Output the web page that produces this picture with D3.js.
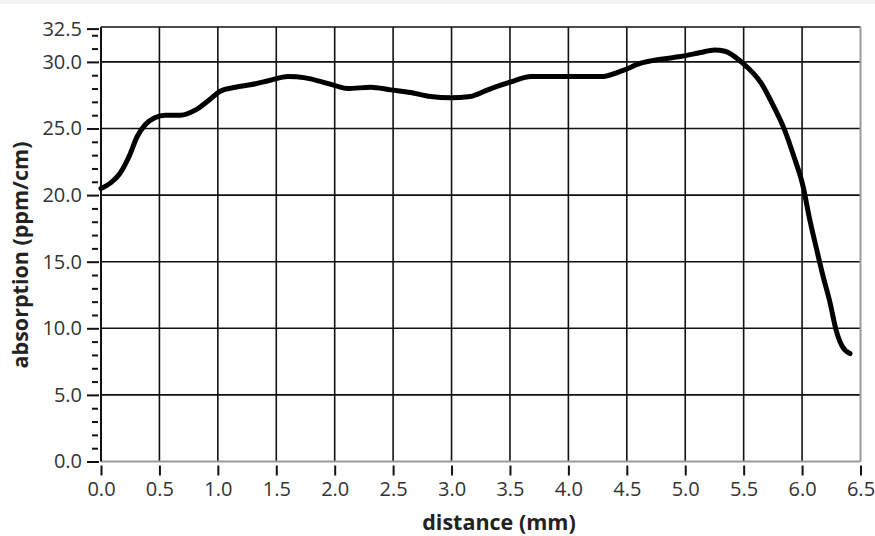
<!DOCTYPE html>
<html>
<head>
<meta charset="utf-8">
<script src="https://cdn.jsdelivr.net/npm/d3@7"></script>
<style>
  body { margin: 0; background: #fff; }
  svg { display: block; }
</style>
</head>
<body>
<script>
// distance (mm) and absorption (ppm/cm)
const distance = [0.00, 0.08, 0.16, 0.24, 0.31, 0.38, 0.46, 0.55, 0.68, 0.81,
                  0.92, 1.02, 1.15, 1.29, 1.44, 1.60, 1.75, 1.89, 2.01, 2.11,
                  2.31, 2.48, 2.65, 2.82, 2.99, 3.16, 3.31, 3.51, 3.68, 3.96,
                  4.28, 4.45, 4.62, 4.79, 4.96, 5.13, 5.25, 5.34, 5.48, 5.65,
                  5.76, 5.85, 5.93, 6.01, 6.06, 6.12, 6.18, 6.24, 6.29, 6.34, 6.41];
const absorption = [20.5, 20.9, 21.6, 22.9, 24.4, 25.3, 25.8, 26.0, 26.0, 26.4,
                    27.1, 27.8, 28.1, 28.3, 28.6, 28.9, 28.8, 28.5, 28.2, 28.0,
                    28.1, 27.9, 27.7, 27.4, 27.3, 27.4, 27.9, 28.5, 28.9, 28.9,
                    28.9, 29.3, 29.9, 30.2, 30.4, 30.7, 30.9, 30.8, 30.0, 28.4,
                    26.6, 24.9, 22.9, 20.6, 18.4, 16.1, 13.9, 11.9, 9.9, 8.7, 8.1];

const xTicks = [0, 0.5, 1, 1.5, 2, 2.5, 3, 3.5, 4, 4.5, 5, 5.5, 6, 6.5];
const yTicks = [0, 5, 10, 15, 20, 25, 30, 32.5];
const yGrid = [5, 10, 15, 20, 25, 30];
const yMinor = [1, 2, 3, 4, 6, 7, 8, 9, 11, 12, 13, 14, 16, 17, 18, 19,
                21, 22, 23, 24, 26, 27, 28, 29, 31, 32];

const data = distance.map((d, i) => ({d: d, v: absorption[i]}));

const outerWidth = 875, outerHeight = 536;
const margin = {top: 27, right: 14, bottom: 75, left: 101};
const width = 860.5 - margin.left;
const height = 461.5 - margin.top;

const svg = d3.select("body").append("svg")
    .attr("width", outerWidth)
    .attr("height", outerHeight);

// thin grey strip at the top of the window
svg.append("rect").attr("width", outerWidth).attr("height", 4).attr("fill", "#f2f2f2");

const g = svg.append("g")
    .attr("transform", "translate(" + margin.left + "," + margin.top + ")");

const xScale = d3.scaleLinear().domain([0, 6.5]).range([0, width]);
const yScale = d3.scaleLinear().domain([0, 32.62]).range([height, 0]);

// grid
g.selectAll(".vgrid")
    .data(xTicks.slice(1, -1))
    .join("line")
    .attr("class", "vgrid")
    .attr("x1", d => xScale(d)).attr("x2", d => xScale(d))
    .attr("y1", 0).attr("y2", height)
    .attr("stroke", "#111").attr("stroke-width", 1.6);

g.selectAll(".hgrid")
    .data(yGrid)
    .join("line")
    .attr("class", "hgrid")
    .attr("x1", 0).attr("x2", width)
    .attr("y1", d => yScale(d)).attr("y2", d => yScale(d))
    .attr("stroke", "#111").attr("stroke-width", 1.6);

// frame: top + left dark, bottom + right grey
g.append("line").attr("x1", 0).attr("x2", width).attr("y1", 0).attr("y2", 0)
    .attr("stroke", "#111").attr("stroke-width", 1.6);
g.append("line").attr("x1", width).attr("x2", width).attr("y1", 0).attr("y2", height)
    .attr("stroke", "#9a9a9a").attr("stroke-width", 2);
g.append("line").attr("x1", 0).attr("x2", width).attr("y1", height).attr("y2", height)
    .attr("stroke", "#9a9a9a").attr("stroke-width", 2);
g.append("line").attr("x1", 0).attr("x2", 0).attr("y1", 0).attr("y2", height)
    .attr("stroke", "#111").attr("stroke-width", 2);

// axes
const font = "'Open Sans', sans-serif";

const xAxis = d3.axisBottom(xScale).tickValues(xTicks).tickSize(10).tickPadding(6)
    .tickFormat(d3.format(".1f"));
const yAxis = d3.axisLeft(yScale).tickValues(yTicks).tickSize(12).tickPadding(5)
    .tickFormat(d3.format(".1f"));
const yAxisMinor = d3.axisLeft(yScale).tickValues(yMinor).tickSize(6).tickFormat("");

const xg = g.append("g").attr("transform", "translate(0," + (height + 4) + ")").call(xAxis);
const yg = g.append("g").attr("transform", "translate(-2,0)").call(yAxis);
const ymg = g.append("g").attr("transform", "translate(-3,0)").call(yAxisMinor);

[xg, yg, ymg].forEach(a => {
    a.select(".domain").remove();
    a.selectAll(".tick line").attr("stroke", "#111").attr("stroke-width", 2);
    a.selectAll("text").attr("fill", "#333").style("font-family", font).style("font-size", "20px");
});

// the curve
const line = d3.line()
    .x(d => xScale(d.d))
    .y(d => yScale(d.v))
    .curve(d3.curveMonotoneX);

g.append("path")
    .datum(data)
    .attr("d", line)
    .attr("fill", "none")
    .attr("stroke", "#000")
    .attr("stroke-width", 5)
    .attr("stroke-linejoin", "round")
    .attr("stroke-linecap", "round");

// axis titles
svg.append("text")
    .attr("x", 499).attr("y", 530)
    .attr("text-anchor", "middle")
    .style("font-family", font).style("font-weight", "bold").style("font-size", "21.5px")
    .attr("fill", "#222")
    .text("distance (mm)");

svg.append("text")
    .attr("transform", "translate(28,255) rotate(-90)")
    .attr("text-anchor", "middle")
    .style("font-family", font).style("font-weight", "bold").style("font-size", "21.5px")
    .attr("fill", "#222")
    .text("absorption (ppm/cm)");
</script>
</body>
</html>
